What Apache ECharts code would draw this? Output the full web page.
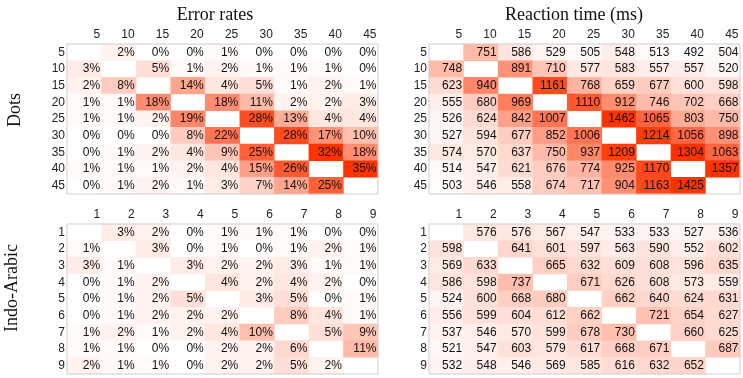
<!DOCTYPE html>
<html>
<head>
<meta charset="utf-8">
<script src="https://cdn.jsdelivr.net/npm/echarts@6/dist/echarts.min.js"></script>
<style>
  html, body { margin: 0; padding: 0; background: #fff; }
  #chart { width: 743px; height: 378px; }
</style>
</head>
<body>
<div id="chart"></div>
<script>
var dotsLabels = ['5', '10', '15', '20', '25', '30', '35', '40', '45'];
var digitLabels = ['1', '2', '3', '4', '5', '6', '7', '8', '9'];

// rows = first stimulus, columns = second stimulus; null on the diagonal
var dotsError = [
  [null, 2, 0, 0, 1, 0, 0, 0, 0],
  [3, null, 5, 1, 2, 1, 1, 1, 0],
  [2, 8, null, 14, 4, 5, 1, 2, 1],
  [1, 1, 18, null, 18, 11, 2, 2, 3],
  [1, 1, 2, 19, null, 28, 13, 4, 4],
  [0, 0, 0, 8, 22, null, 28, 17, 10],
  [0, 1, 2, 4, 9, 25, null, 32, 18],
  [1, 1, 1, 2, 4, 15, 26, null, 35],
  [0, 1, 2, 1, 3, 7, 14, 25, null]
];
var dotsRT = [
  [null, 751, 586, 529, 505, 548, 513, 492, 504],
  [748, null, 891, 710, 577, 583, 557, 557, 520],
  [623, 940, null, 1161, 768, 659, 677, 600, 598],
  [555, 680, 969, null, 1110, 912, 746, 702, 668],
  [526, 624, 842, 1007, null, 1462, 1065, 803, 750],
  [527, 594, 677, 852, 1006, null, 1214, 1056, 898],
  [574, 570, 637, 750, 937, 1209, null, 1304, 1063],
  [514, 547, 621, 676, 774, 925, 1170, null, 1357],
  [503, 546, 558, 674, 717, 904, 1163, 1425, null]
];
var digitError = [
  [null, 3, 2, 0, 1, 1, 1, 0, 0],
  [1, null, 3, 0, 1, 0, 1, 2, 1],
  [3, 1, null, 3, 2, 2, 3, 1, 1],
  [0, 1, 2, null, 4, 2, 4, 2, 0],
  [0, 1, 2, 5, null, 3, 5, 0, 1],
  [0, 1, 2, 2, 2, null, 8, 4, 1],
  [1, 2, 1, 2, 4, 10, null, 5, 9],
  [1, 1, 0, 0, 2, 2, 6, null, 11],
  [2, 1, 1, 0, 2, 2, 5, 2, null]
];
var digitRT = [
  [null, 576, 576, 567, 547, 533, 533, 527, 536],
  [598, null, 641, 601, 597, 563, 590, 552, 602],
  [569, 633, null, 665, 632, 609, 608, 596, 635],
  [586, 598, 737, null, 671, 626, 608, 573, 559],
  [524, 600, 668, 680, null, 662, 640, 624, 631],
  [556, 599, 604, 612, 662, null, 721, 654, 627],
  [537, 546, 570, 599, 678, 730, null, 660, 625],
  [521, 547, 603, 579, 617, 668, 671, null, 687],
  [532, 548, 546, 569, 585, 616, 632, 652, null]
];

function cells(matrix) {
  var out = [];
  matrix.forEach(function (row, i) {
    row.forEach(function (v, j) {
      if (v !== null) out.push([j, i, v]);
    });
  });
  return out;
}

var sans = 'Liberation Sans, Arial, sans-serif';
var serif = 'Liberation Serif, Times New Roman, serif';
var cellW = 311 / 9;
var fs = 12;

var grids = [
  { left: 67, top: 44, width: 311, height: 150 },
  { left: 429, top: 44, width: 311, height: 150 },
  { left: 67, top: 224, width: 311, height: 150 },
  { left: 429, top: 224, width: 311, height: 150 }
].map(function (g) {
  g.show = true;
  g.z = 5;
  g.borderColor = '#cfcfcf';
  g.borderWidth = 1;
  g.backgroundColor = 'transparent';
  return g;
});

var axisLabels = [dotsLabels, dotsLabels, digitLabels, digitLabels];

var xAxes = axisLabels.map(function (labels, i) {
  return {
    type: 'category', gridIndex: i, data: labels, position: 'top',
    axisLine: { show: false }, axisTick: { show: false }, splitLine: { show: false },
    axisLabel: {
      interval: 0, hideOverlap: false, margin: 3, color: '#222', fontSize: fs, fontFamily: sans,
      formatter: function (v) { return '{a|' + v + '}'; },
      rich: { a: { width: cellW - 3, align: 'right', fontSize: fs, fontFamily: sans, color: '#222' } }
    }
  };
});

var yAxes = axisLabels.map(function (labels, i) {
  return {
    type: 'category', gridIndex: i, data: labels, inverse: true,
    axisLine: { show: false }, axisTick: { show: false }, splitLine: { show: false },
    axisLabel: { interval: 0, margin: 2, color: '#222', fontSize: fs, fontFamily: sans }
  };
});

function heat(i, matrix, suffix) {
  return {
    type: 'heatmap', xAxisIndex: i, yAxisIndex: i, data: cells(matrix),
    itemStyle: { borderWidth: 0 },
    emphasis: { disabled: true },
    label: {
      show: true, color: '#111', fontSize: fs, fontFamily: sans,
      align: 'right', offset: [cellW / 2 - 1.5, 0],
      formatter: function (p) { return p.value[2] + suffix; }
    }
  };
}

var chart = echarts.init(document.getElementById('chart'));
chart.setOption({
  animation: false,
  title: [
    { text: 'Error rates', left: 210, top: 1, textAlign: 'center',
      textStyle: { fontFamily: serif, fontSize: 18, fontWeight: 'normal', color: '#111' } },
    { text: 'Reaction time (ms)', left: 569, top: 1, textAlign: 'center',
      textStyle: { fontFamily: serif, fontSize: 18, fontWeight: 'normal', color: '#111' } }
  ],
  graphic: [
    { type: 'text', x: 15, y: 110, rotation: Math.PI / 2,
      style: { text: 'Dots', font: '18px ' + serif, fill: '#111', align: 'center', verticalAlign: 'middle' } },
    { type: 'text', x: 12, y: 288, rotation: Math.PI / 2,
      style: { text: 'Indo-Arabic', font: '18px ' + serif, fill: '#111', align: 'center', verticalAlign: 'middle' } }
  ],
  grid: grids,
  xAxis: xAxes,
  yAxis: yAxes,
  visualMap: [
    { show: false, seriesIndex: [0, 2], min: 0, max: 32, inRange: { color: ['#ffffff', '#ff3300'] } },
    { show: false, seriesIndex: [1, 3], min: 490, max: 1250, inRange: { color: ['#ffffff', '#ff3300'] } }
  ],
  series: [
    heat(0, dotsError, '%'),
    heat(1, dotsRT, ''),
    heat(2, digitError, '%'),
    heat(3, digitRT, '')
  ]
});
</script>
</body>
</html>
